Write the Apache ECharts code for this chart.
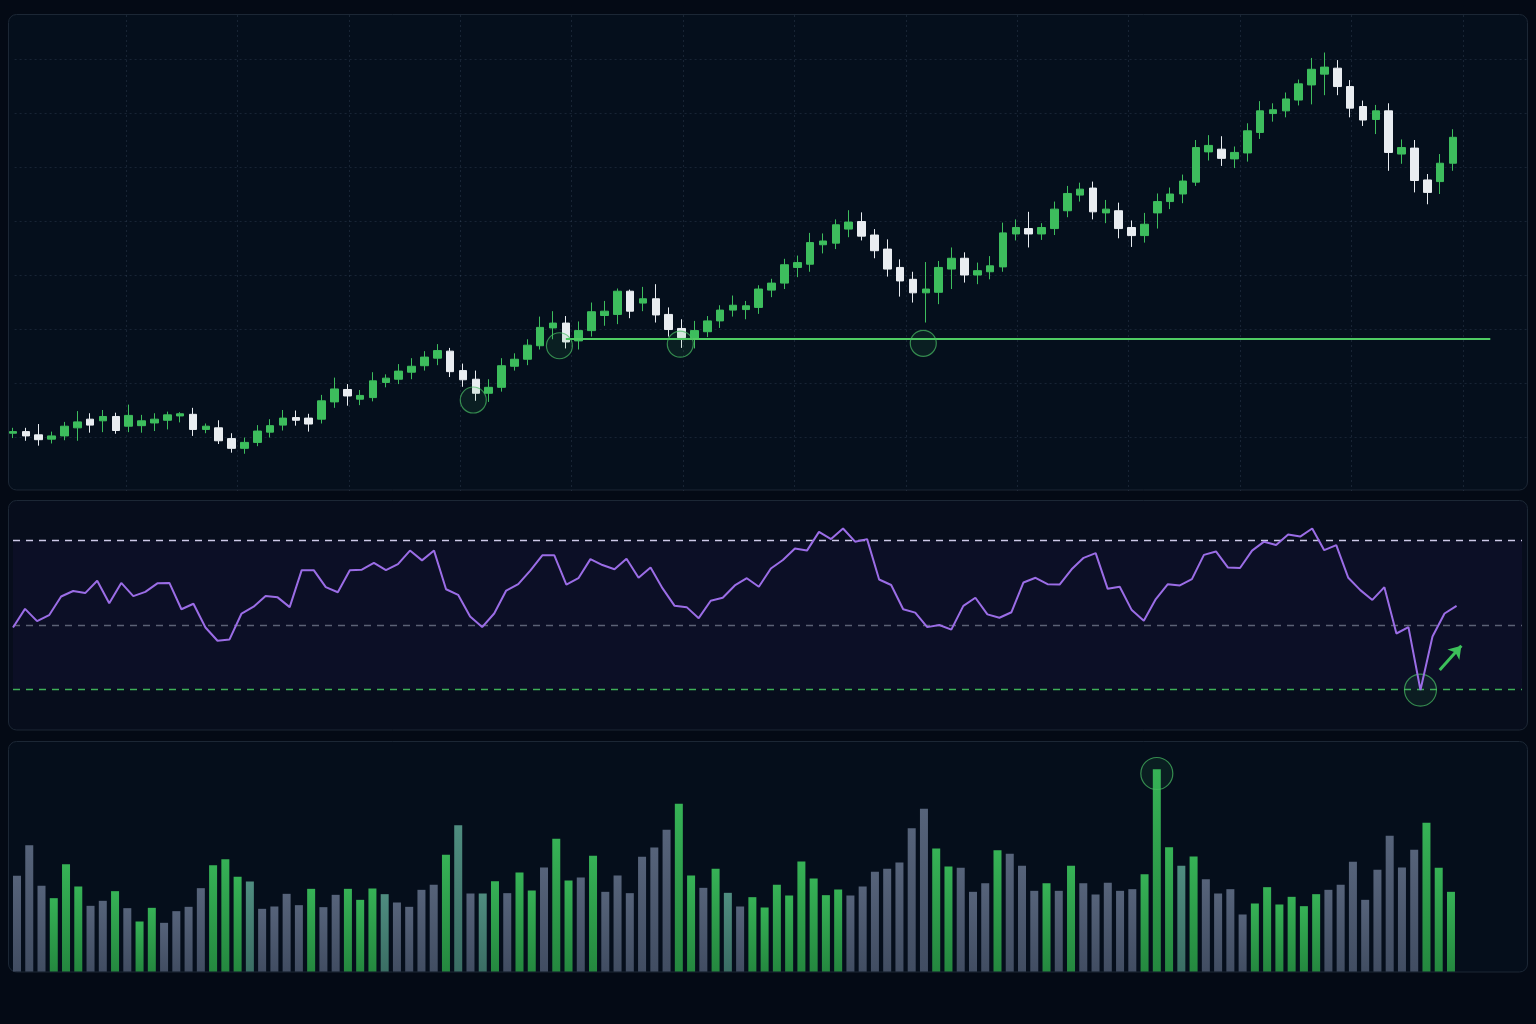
<!DOCTYPE html>
<html lang="en">
<head>
<meta charset="UTF-8">
<title>Price / RSI / Volume</title>
<style>
  html, body { margin: 0; padding: 0; background: #040a15; }
  #chart { width: 1536px; height: 1024px; }
</style>
</head>
<body>
<div id="chart"></div>
<script src="https://cdn.jsdelivr.net/npm/echarts@6/dist/echarts.min.js"></script>
<script>
// each candle: [open, close, low, high]
var candles = [
  [110.7,111.0,109.8,111.7],[111.0,110.2,109.3,111.7],[110.4,109.5,108.4,112.4],[109.6,110.2,108.8,111.0],
  [110.2,112.0,109.4,112.8],[111.7,112.8,109.3,114.8],[113.3,112.2,110.8,114.4],[113.0,113.8,110.9,115.0],
  [113.8,111.2,110.6,114.5],[112.0,114.0,110.9,116.0],[112.1,113.0,110.8,114.1],[112.6,113.3,111.1,114.4],
  [113.1,114.1,111.4,114.7],[113.9,114.3,112.7,114.6],[114.2,111.4,110.2,115.4],[111.4,112.0,110.7,112.5],
  [111.7,109.3,108.7,113.1],[109.7,107.9,107.1,110.7],[107.9,109.0,106.9,109.9],[109.0,111.1,108.3,112.2],
  [110.9,112.1,109.9,113.3],[112.2,113.5,111.2,115.0],[113.6,113.1,112.1,114.9],[113.5,112.4,111.0,114.3],
  [113.3,116.7,112.5,117.8],[116.5,118.9,115.4,121.0],[118.8,117.6,115.8,119.8],[117.0,117.7,115.9,118.7],
  [117.3,120.4,116.6,122.0],[120.1,120.9,119.2,121.6],[120.7,122.2,119.8,123.5],[122.0,123.1,120.7,124.6],
  [123.2,124.8,122.3,125.9],[124.6,126.0,123.3,127.2],[125.9,122.1,121.1,126.5],[122.3,120.6,119.3,123.6],
  [120.7,118.1,116.7,122.3],[118.1,119.2,116.5,120.7],[119.2,123.2,118.4,124.6],[123.1,124.4,122.3,125.5],
  [124.4,127.0,123.3,128.1],[126.9,130.3,126.2,132.3],[130.2,131.1,128.1,133.3],[131.1,127.6,126.4,132.4],
  [127.8,129.7,126.2,131.4],[129.7,133.2,128.6,134.9],[132.5,133.3,130.6,135.2],[132.7,137.0,130.9,137.5],
  [137.0,133.3,132.0,137.3],[134.8,135.6,133.3,137.8],[135.6,132.6,131.2,138.3],[132.7,129.9,128.6,134.0],
  [130.1,128.4,126.5,131.8],[128.1,129.7,126.4,131.5],[129.5,131.5,128.5,132.4],[131.5,133.5,130.2,134.4],
  [133.5,134.4,132.3,136.2],[133.6,134.3,131.8,135.2],[134.0,137.4,132.8,138.1],[137.2,138.5,135.9,139.3],
  [138.5,141.9,137.4,143.0],[141.4,142.3,139.6,143.6],[142.0,146.0,140.6,147.8],[145.6,146.3,144.0,147.7],
  [145.9,149.3,144.8,150.3],[148.5,149.8,147.0,152.0],[149.9,147.2,146.4,151.6],[147.4,144.5,143.1,148.5],
  [144.8,141.1,139.7,146.6],[141.4,138.9,136.0,142.9],[139.2,136.7,134.9,140.6],[136.7,137.4,131.2,142.4],
  [136.8,141.4,134.6,142.6],[141.1,143.1,137.4,145.1],[143.1,140.0,138.6,144.2],[140.0,140.8,138.3,142.3],
  [140.6,141.7,139.2,143.5],[141.5,147.8,140.6,149.7],[147.6,148.8,146.4,150.3],[148.6,147.6,145.1,151.7],
  [147.6,148.8,146.5,149.6],[148.6,152.2,147.4,153.6],[151.9,155.1,150.7,156.5],[154.8,155.9,153.6,157.1],
  [156.1,151.7,150.3,157.3],[151.5,152.2,149.6,153.9],[151.9,148.6,146.8,153.4],[148.8,147.3,145.2,150.1],
  [147.3,149.4,146.0,151.5],[151.5,153.6,148.6,155.1],[153.6,155.0,152.2,156.2],[155.0,157.4,153.3,158.6],
  [157.2,163.6,156.5,165.0],[162.8,164.0,161.2,165.9],[163.3,161.6,160.2,165.7],[161.5,162.7,159.8,163.8],
  [162.6,166.7,161.0,168.1],[166.4,170.4,165.2,172.2],[169.9,170.6,168.4,171.8],[170.4,172.6,169.2,173.8],
  [172.4,175.4,171.4,176.2],[175.2,178.1,171.6,180.2],[177.2,178.5,173.3,181.2],[178.3,174.9,173.3,179.8],
  [174.9,170.9,169.2,176.1],[171.2,168.7,167.6,172.3],[168.8,170.4,166.1,171.5],[170.4,162.7,159.3,171.8],
  [162.4,163.6,160.6,165.1],[163.5,157.5,155.3,165.0],[157.6,155.3,153.1,158.7],[157.3,160.7,155.0,162.4],
  [160.7,165.5,159.3,167.0]
];

// support level and the candles that touched it: [candle index, price]
var supportLevel = 128.2;
var supportFrom = 43, supportTo = 114.9;
var touches = [[35.8,116.85],[42.5,126.9],[51.9,127.2],[70.8,127.35]];

var rsiValues = [
  49.4,53.8,50.9,52.3,56.7,58.0,57.5,60.4,55.1,59.9,56.8,57.8,59.8,59.9,53.7,55.0,49.4,46.3,46.6,52.7,
  54.3,56.8,56.5,54.2,62.9,62.9,58.9,57.7,62.9,63.0,64.6,62.9,64.3,67.5,65.2,67.5,58.4,57.1,52.0,49.5,
  52.7,58.1,59.6,62.8,66.4,66.4,59.5,61.0,65.5,64.1,63.1,65.6,61.1,63.5,58.6,54.5,54.2,51.6,55.7,56.4,
  59.3,61.0,59.0,63.3,65.3,68.0,67.5,71.9,70.2,72.7,69.6,70.2,60.7,59.4,53.7,52.9,49.5,50.0,48.9,54.5,
  56.4,52.5,51.7,53.0,60.0,61.1,59.6,59.5,63.1,65.8,66.9,58.5,59.0,53.5,51.0,56.1,59.6,59.3,60.8,66.5,
  67.3,63.5,63.4,67.5,69.6,68.8,71.3,70.8,72.7,67.6,68.8,61.1,58.2,55.9,58.9,48.0,49.5,34.7,47.3,52.7,
  54.5
];
var rsiLevels = [70, 50, 35];   // overbought, middle, oversold
var rsiLowIndex = 117;
var rsiArrow = [[118.6, 39.4], [120.4, 45.1]];

var volumes = [
  287,379,257,220,322,255,197,212,241,190,
  150,191,146,181,194,250,319,337,284,270,
  188,195,233,199,248,193,230,248,215,249,
  232,207,194,245,260,350,439,234,234,271,
  235,297,243,312,398,273,282,347,239,288,
  235,344,372,425,503,288,251,308,236,195,
  223,192,260,228,330,279,229,246,228,255,
  299,308,327,430,488,369,315,311,239,265,
  364,353,317,242,265,242,317,265,231,266,
  242,247,292,607,373,317,345,277,234,247,
  171,204,253,201,224,196,232,245,260,329,
  215,305,407,312,365,446,311,239
];
// 0 = down (slate), 1 = up (green), 2 = mixed (teal)
var volumeTone = [
  0,0,0,1,1,1,0,0,1,0,
  1,1,0,0,0,0,1,1,1,2,
  0,0,0,0,1,0,0,1,1,1,
  2,0,0,0,0,1,2,0,2,1,
  0,1,1,0,1,1,0,1,0,0,
  0,0,0,0,1,1,0,1,2,0,
  1,1,1,1,1,1,1,1,0,0,
  0,0,0,0,0,1,1,0,0,0,
  1,0,0,0,1,0,1,0,0,0,
  0,0,1,1,1,2,1,0,0,0,
  0,1,1,1,1,1,1,0,0,0,
  0,0,0,0,0,1,1,1
];
var volumeSpike = 93;

var chart = echarts.init(document.getElementById('chart'));

var green = '#3dbd5d';
var white = '#e9edf1';
var gridLine = { color: 'rgba(110,135,165,0.18)', type: [2, 3], width: 1 };

function grad(top, bottom) {
  return new echarts.graphic.LinearGradient(0, 0, 0, 1, [
    { offset: 0, color: top }, { offset: 1, color: bottom }
  ]);
}
var toneFill = [grad('#56637a', '#414d62'), grad('#36b256', '#24883f'), grad('#4f8d80', '#3a6e64')];

function panel(y, h, fill) {
  return {
    type: 'rect', z: -10, silent: true,
    shape: { x: 8.5, y: y, width: 1519, height: h, r: 8 },
    style: { fill: fill, stroke: '#1c2735', lineWidth: 1 }
  };
}

var ring = {
  color: 'rgba(60,180,90,0.10)',
  borderColor: 'rgba(72,190,100,0.7)',
  borderWidth: 1.2
};

var option = {
  animation: false,
  backgroundColor: '#040a15',
  graphic: [
    panel(14.5, 475.5, '#050f1c'),
    panel(500.5, 229.5, '#070d1c'),
    panel(741.5, 230.5, '#050e1b')
  ],
  grid: [
    { left: 14.6, right: 8, top: 15, height: 476 },        // price grid lines
    { left: 6.57, right: 38, top: 15, height: 476 },       // candles
    { left: 13, right: 14, top: 500, height: 230 },        // rsi
    { left: 10.87, right: 78.9, top: 742.5, height: 229 }  // volume
  ],
  xAxis: [
    {
      gridIndex: 0, type: 'value', min: 0, max: 13.585, interval: 1,
      axisLine: { show: false }, axisTick: { show: false }, axisLabel: { show: false },
      splitLine: { show: true, showMinLine: false, showMaxLine: false, lineStyle: gridLine }
    },
    { gridIndex: 1, type: 'value', min: -0.5, max: 115.5, show: false },
    { gridIndex: 2, type: 'value', min: 0, max: 125.44, show: false },
    { gridIndex: 3, type: 'value', min: -0.5, max: 117.5, show: false }
  ],
  yAxis: [
    {
      gridIndex: 0, type: 'value', min: 100, max: 188.15, interval: 10,
      axisLine: { show: false }, axisTick: { show: false }, axisLabel: { show: false },
      splitLine: { show: true, showMinLine: false, showMaxLine: false, lineStyle: gridLine }
    },
    { gridIndex: 1, type: 'value', min: 100, max: 188.15, show: false },
    { gridIndex: 2, type: 'value', min: 25.3, max: 79.4, show: false },
    { gridIndex: 3, type: 'value', min: 0, max: 687, show: false }
  ],
  series: [
    {
      type: 'candlestick',
      xAxisIndex: 1, yAxisIndex: 1,
      data: candles.map(function (c, i) { return [i, c[0], c[1], c[2], c[3]]; }),
      barWidth: 8,
      itemStyle: { color: green, color0: white, borderColor: green, borderColor0: white, borderWidth: 1 },
      markLine: {
        silent: true, symbol: 'none', label: { show: false },
        lineStyle: { color: '#4fcb62', width: 2, type: 'solid' },
        data: [[{ coord: [supportFrom, supportLevel] }, { coord: [supportTo, supportLevel] }]]
      },
      markPoint: {
        silent: true, symbol: 'circle', symbolSize: 26, label: { show: false },
        itemStyle: ring,
        data: touches.map(function (p) { return { coord: p }; })
      }
    },
    {
      type: 'line',
      xAxisIndex: 2, yAxisIndex: 2,
      data: rsiValues.map(function (v, i) { return [i, v]; }),
      symbol: 'none',
      z: 5,
      lineStyle: { color: '#9b6de6', width: 2 },
      markArea: {
        silent: true,
        itemStyle: { color: 'rgba(80,50,160,0.08)' },
        data: [[{ yAxis: rsiLevels[2] }, { yAxis: rsiLevels[0] }]]
      },
      markLine: {
        silent: true, symbol: 'none', label: { show: false },
        data: [
          { yAxis: rsiLevels[0], lineStyle: { color: '#cdc9e8', type: [7, 6], width: 1.3 } },
          { yAxis: rsiLevels[1], lineStyle: { color: '#5b6175', type: [7, 6], width: 1.3 } },
          { yAxis: rsiLevels[2], lineStyle: { color: '#3fae58', type: [7, 6], width: 1.3 } },
          [
            { coord: rsiArrow[0], symbol: 'none', lineStyle: { color: '#3cc05a', width: 3, type: 'solid' } },
            { coord: rsiArrow[1], symbol: 'arrow', symbolSize: 12 }
          ]
        ]
      },
      markPoint: {
        silent: true, symbol: 'circle', symbolSize: 32, label: { show: false },
        itemStyle: ring,
        data: [{ coord: [rsiLowIndex, rsiValues[rsiLowIndex]] }]
      }
    },
    {
      type: 'bar',
      xAxisIndex: 3, yAxisIndex: 3,
      barWidth: 8,
      data: volumes.map(function (v, i) {
        return { value: [i, v], itemStyle: { color: toneFill[volumeTone[i]] } };
      }),
      markPoint: {
        silent: true, symbol: 'circle', symbolSize: 32, label: { show: false },
        itemStyle: ring,
        data: [{ coord: [volumeSpike, volumes[volumeSpike] - 13] }]
      }
    }
  ]
};

chart.setOption(option);
</script>
</body>
</html>
